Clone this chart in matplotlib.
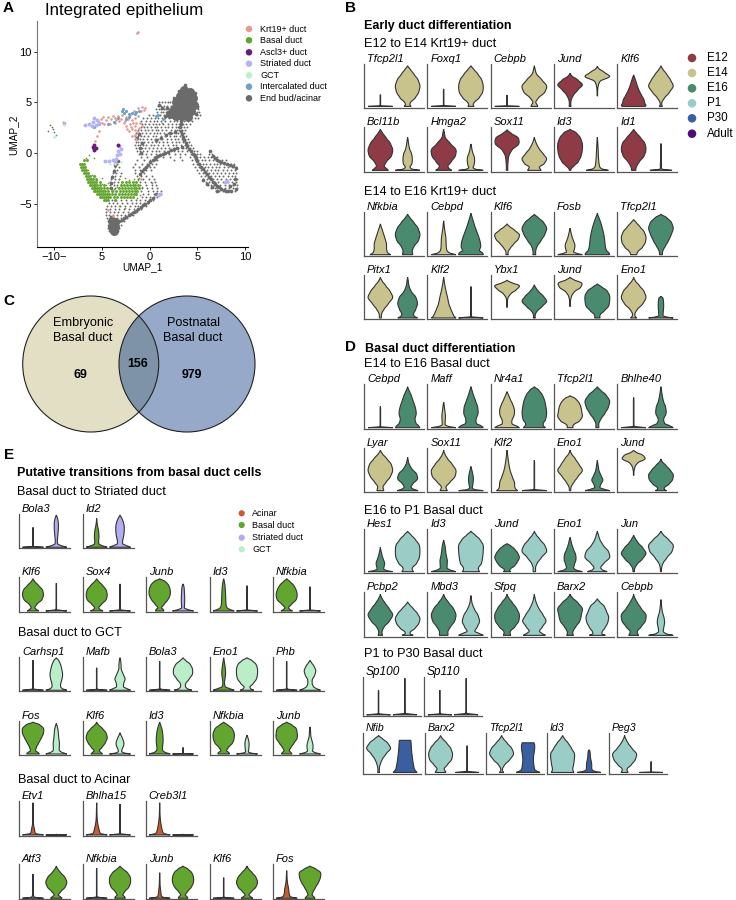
import matplotlib
matplotlib.use("Agg")
import matplotlib.pyplot as plt
from matplotlib.patches import Circle, PathPatch
from matplotlib.path import Path

plt.rcParams["font.family"] = ["Liberation Sans", "DejaVu Sans"]

W, H = 736, 900
DARK = "#333333"

# ---- panel A: UMAP points (x, y in UMAP units)
GRAY_CORE = [(3.6, 6.2), (4.2, 6.0), (3.2, 5.6), (3.9, 5.5), (4.5, 5.4), (2.8, 5.0), (3.4, 4.9), (4.0, 4.9),
             (4.6, 4.8), (2.5, 4.4), (3.1, 4.3), (3.7, 4.3), (4.3, 4.2), (2.1, 3.9), (2.8, 3.7), (3.4, 3.7),
             (4.0, 3.6), (-3.8, -7.6), (-3.6, -7.2), (-4.0, -7.2), (-3.7, -6.8), (-4.0, -6.7)]
GRAY_RIDGE = [(3.7, 6.7), (3.1, 6.1), (4.7, 5.9), (2.5, 5.4), (5.0, 4.6), (1.8, 4.5), (1.3, 4.5), (1.0, 4.8),
              (4.8, 3.9), (1.6, 3.7), (3.3, 3.2), (3.2, 2.6), (3.4, 1.9), (3.6, 1.3), (3.9, 0.7), (4.3, 0.2),
              (4.7, -0.3), (5.0, -0.8), (5.4, -1.3), (5.8, -1.8), (6.2, -2.3), (6.6, -2.8), (7.0, -3.2),
              (7.5, -3.5), (8.0, -3.7), (8.5, -3.7), (9.0, -3.5), (8.8, -3.0), (8.9, -2.5), (8.4, -3.2),
              (6.3, 0.2), (6.6, -0.3), (7.0, -0.7), (7.5, -0.9), (8.1, -1.0), (8.7, -1.2), (9.0, -1.4),
              (-1.0, -2.0), (-0.6, -1.5), (-0.2, -1.1), (0.3, -0.7), (0.7, -0.4), (1.1, -0.2), (1.6, 0.0),
              (2.2, 0.3), (2.9, 0.5), (3.4, 0.6), (-3.7, -6.6), (-3.2, -6.7), (-2.7, -6.4), (-2.2, -6.1),
              (-1.7, -5.8), (-1.2, -5.5), (-0.7, -5.1), (-0.2, -4.8), (0.3, -4.4), (0.7, -4.0), (-4.1, -6.3),
              (-3.6, -1.1), (-3.8, -1.7), (-4.0, -2.3), (-4.1, -2.9), (-4.1, -3.4), (-3.3, -0.8), (0.7, 1.3),
              (1.2, 1.5), (1.7, 1.8), (2.1, 2.0), (-1.0, 0.5), (-0.8, 1.0), (-0.9, 0.0), (-1.3, 1.5),
              (-1.1, 1.9), (2.6, 2.1), (5.6, -2.6), (6.0, -3.0), (6.5, -3.3), (7.1, -3.7), (3.25, 2.9),
              (3.3, 2.2), (3.5, 1.6), (3.75, 1.0), (4.1, 0.45), (4.5, -0.05), (4.85, -0.55), (5.2, -1.05),
              (5.6, -1.55), (6.0, -2.05), (6.4, -2.55), (6.8, -3.0), (7.25, -3.35), (7.75, -3.6), (8.25, -3.7),
              (-0.8, -1.75), (-0.4, -1.3), (0.05, -0.9), (0.5, -0.55), (0.9, -0.3), (1.35, -0.1), (1.9, 0.15),
              (2.55, 0.4), (-3.45, -6.75), (-2.95, -6.55), (-2.45, -6.25), (-1.95, -5.95), (-1.45, -5.65),
              (-0.95, -5.3), (-0.45, -4.95), (0.05, -4.6), (7.25, -0.8), (7.8, -0.95), (8.4, -1.1), (6.8, -0.5)]
# sparse cells, one list of x for each row of y
GRAY_ROW_Y = [5.0, 4.7, 4.4, 4.1, 3.8, 3.5, 3.2, 2.9, 2.6, 2.3, 2.0, 1.7, 1.4, 1.1, 0.8, 0.5, 0.2, -0.1, -0.4, -0.7,
              -1.0, -1.3, -1.6, -1.9, -2.2, -2.5, -2.8, -3.1, -3.4, -3.7, -4.0, -4.3, -4.6, -4.9, -5.2, -5.5, -5.8,
              -6.1, -6.4, -6.7, -7.0, -7.3, -7.6]
GRAY_ROW_X = [[1.0, 1.3, 1.6, 1.9, 2.1],
              [0.9, 1.2, 1.5, 1.8, 2.2, 5.1],
              [0.7, 1.0, 1.2, 1.5, 1.7, 2.0, 5.1],
              [0.8, 1.2, 1.4, 1.7, 2.0, 5.0, 5.2],
              [-0.1, 0.3, 0.8, 1.1, 1.5, 1.8, 5.0, 5.3],
              [-0.7, -0.3, 0.1, 0.5, 0.9, 1.3, 1.6, 2.0, 2.4, 3.0, 3.5, 3.9, 4.3, 4.7, 5.1],
              [-0.9, -0.4, 0.0, 0.4, 0.8, 1.2, 1.6, 2.1, 2.5, 2.9, 3.3, 3.6, 4.0, 4.4],
              [-0.8, -0.5, -0.1, 0.3, 0.7, 1.0, 1.4, 1.9, 2.3, 2.7, 3.1, 3.5, 3.8, 4.2],
              [-0.9, -0.6, -0.3, 0.1, 0.5, 0.8, 1.2, 1.6, 1.9, 2.3, 2.8, 3.0, 3.3, 3.6, 3.9],
              [-1.2, -0.9, -0.5, -0.2, 0.2, 0.6, 0.9, 1.3, 1.7, 2.2, 2.6, 2.9, 3.1, 3.4, 3.7],
              [-1.4, -1.1, -0.8, -0.4, 0.0, 0.4, 0.8, 1.1, 1.5, 1.9, 2.3, 2.7, 3.0, 3.3, 3.6],
              [-1.5, -1.2, -0.9, -0.6, -0.2, 0.3, 0.7, 1.2, 1.6, 2.1, 2.5, 2.8, 3.2, 3.5, 3.8],
              [-1.6, -1.3, -1.0, -0.7, -0.3, 0.1, 0.5, 0.9, 1.3, 1.8, 2.2, 2.6, 3.0, 3.4, 3.7, 4.0],
              [-1.4, -1.2, -0.9, -0.6, -0.2, 0.2, 0.6, 1.0, 1.4, 1.8, 2.3, 2.7, 3.1, 3.5, 3.8, 4.1],
              [-1.5, -1.2, -1.0, -0.7, -0.4, 0.1, 0.4, 0.9, 1.4, 1.9, 2.4, 2.8, 3.3, 3.7, 4.0, 4.3],
              [-1.4, -1.1, -0.8, -0.5, -0.1, 0.3, 0.8, 1.2, 1.6, 2.0, 2.5, 3.0, 3.5, 3.8, 4.2, 4.5],
              [-1.3, -1.0, -0.7, -0.3, 0.2, 0.6, 1.0, 1.5, 2.0, 2.5, 3.0, 3.4, 3.9, 4.3, 4.6, 4.9, 6.3],
              [-1.1, -0.8, -0.4, 0.1, 0.6, 1.1, 1.5, 2.0, 2.6, 3.2, 3.7, 4.3, 4.7, 5.0, 5.3, 6.2, 6.5],
              [-0.9, -0.3, 0.4, 0.8, 1.4, 2.1, 3.2, 4.2, 4.6, 4.9, 5.3, 5.7, 6.1, 6.4, 6.7, 7.1],
              [-1.3, -0.6, 0.0, 0.4, 0.8, 2.5, 3.4, 4.4, 4.8, 5.1, 5.5, 5.8, 6.2, 6.6, 6.9, 7.2, 7.6, 8.0],
              [-3.4, -1.5, -0.8, -0.3, 0.2, 0.6, 4.5, 5.0, 5.3, 5.6, 5.9, 6.3, 6.7, 7.0, 7.4, 7.8, 8.2, 8.5, 8.8],
              [-3.6, -3.2, -1.8, -1.1, -0.5, 0.0, 0.4, 4.7, 5.2, 5.5, 5.8, 6.1, 6.5, 6.9, 7.3, 7.8, 8.2, 8.6, 9.0],
              [-3.8, -3.4, -1.6, -1.0, -0.4, 0.1, 5.0, 5.4, 5.7, 6.0, 6.4, 6.8, 7.2, 7.7, 8.1, 8.5, 8.9],
              [-3.9, -3.5, -3.0, -1.5, -1.0, -0.6, 5.2, 5.6, 5.9, 6.2, 6.6, 7.0, 7.5, 7.9, 8.3, 8.7, 9.0],
              [-4.0, -3.6, -3.1, -1.3, -0.9, -0.4, 0.2, 5.4, 5.8, 6.1, 6.4, 6.8, 7.3, 7.7, 8.2, 8.6, 8.9],
              [-4.1, -3.7, -3.2, -1.2, -0.7, -0.1, 0.4, 5.6, 6.0, 6.3, 6.6, 7.0, 7.5, 8.0, 8.4, 8.8, 9.1],
              [-4.2, -3.8, -3.3, -1.0, -0.5, 0.1, 0.5, 5.9, 6.2, 6.5, 6.8, 7.2, 7.7, 8.2, 8.6, 9.0],
              [-4.2, -3.8, -3.4, -1.0, -0.4, 0.2, 0.6, 6.1, 6.4, 6.7, 7.0, 7.4, 7.9, 8.3, 8.7, 9.1],
              [-4.1, -3.6, -0.8, -0.3, 0.2, 0.8, 6.4, 6.8, 7.1, 7.5, 7.9, 8.3, 8.7, 9.1],
              [-3.9, -0.9, -0.2, 0.3, 0.8, 1.2, 6.9, 7.3, 7.7, 8.1, 8.5, 8.9],
              [-0.7, -0.2, 0.4, 0.8, 1.2],
              [-0.8, -0.4, 0.0, 0.4, 0.8],
              [-4.0, -3.5, -3.0, -2.5, -2.0, -1.4, -1.0, -0.5, -0.1, 0.3],
              [-4.3, -3.9, -3.4, -2.9, -2.4, -1.9, -1.4, -1.0, -0.6, -0.2],
              [-4.5, -4.1, -3.6, -3.1, -2.6, -2.1, -1.6, -1.2, -0.8, -0.4],
              [-4.6, -4.2, -3.7, -3.2, -2.7, -2.2, -1.7, -1.3, -0.9],
              [-4.6, -4.2, -3.8, -3.3, -2.8, -2.3, -1.9, -1.5],
              [-4.6, -4.3, -3.9, -3.4, -3.0, -2.6, -2.2, -1.8],
              [-4.5, -4.2, -3.8, -3.4, -3.0, -2.7, -2.4],
              [-4.4, -4.1, -3.7, -3.3, -3.0, -2.7],
              [-4.4, -4.1, -3.8, -3.3, -3.0],
              [-4.4, -3.2],
              [-4.3, -3.3]]
GRAY_ISLANDS = [(-9.0, 3.0), (-9.1, 3.1), (-10.5, 2.8), (-10.3, 2.6), (-10.7, 2.2), (-10.0, 2.1), (-9.8, 1.8),
                (-10.2, 2.4), (-1.3, 11.8)]
GREEN_ROW_Y = [-0.7, -1.0, -1.3, -1.6, -1.9, -2.2, -2.5, -2.8, -3.1, -3.4, -3.7, -4.0, -4.3, -4.6]
GREEN_ROW_X = [[-6.9, -6.6],
               [-7.3, -7.1, -6.9],
               [-7.2, -7.0, -6.8],
               [-7.1, -6.9, -6.7],
               [-6.9, -6.7, -6.5],
               [-6.7, -6.5, -6.3, -5.9],
               [-6.6, -6.4, -6.2, -6.0, -5.6],
               [-6.5, -6.3, -6.1, -5.9, -5.6, -5.2, -2.9, -2.5, -2.2, -1.8, -1.4],
               [-6.3, -6.1, -5.9, -5.7, -5.5, -5.2, -4.8, -3.0, -2.7, -2.4, -2.1, -1.8, -1.5, -1.2],
               [-6.1, -5.9, -5.7, -5.5, -5.3, -5.1, -4.8, -4.5, -3.2, -2.9, -2.6, -2.3, -2.0, -1.7, -1.4, -1.1],
               [-5.9, -5.7, -5.5, -5.3, -5.1, -4.9, -4.7, -4.4, -4.0, -3.5, -3.1, -2.8, -2.5, -2.2, -1.9, -1.6, -1.3],
               [-5.5, -5.3, -5.1, -4.9, -4.7, -4.5, -4.3, -4.0, -3.6, -3.2, -2.9, -2.6, -2.3, -2.0, -1.7, -1.4],
               [-5.2, -5.0, -4.8, -4.6, -4.4, -4.2, -3.8, -3.4, -3.0, -2.7, -2.4, -2.1, -1.8],
               [-4.8, -4.6, -4.4, -3.6]]
GREEN_SPARSE = [(-6.7, -0.5), (-6.4, -0.2), (-6.5, -1.6), (-6.1, -2.1), (-5.7, -2.2), (-5.5, -2.6), (-5.0, -3.0),
                (-4.6, -3.1), (-4.3, -3.4), (-3.8, -3.5), (-3.4, -3.3), (-4.4, -2.9), (-3.2, -2.5), (-2.6, -2.4),
                (-1.2, -2.6), (-1.1, -2.4), (-1.0, -4.1), (-1.3, -4.4), (-2.6, -5.4), (-3.2, -5.2), (-5.0, -2.4),
                (0.2, -2.9), (1.3, 3.0), (-5.9, -0.5), (-1.7, -2.5), (-2.2, -2.6), (-0.8, -3.3)]
PINK_PTS = [(-5.1, 3.4), (-4.6, 3.3), (-4.1, 3.4), (-3.7, 3.5), (-3.3, 3.7), (-2.9, 3.8), (-2.5, 3.6), (-2.1, 3.8),
            (-1.7, 4.2), (-1.2, 4.5), (-0.8, 4.6), (-0.5, 4.5), (-4.8, 2.9), (-4.2, 2.9), (-3.7, 3.0), (-3.2, 3.2),
            (-2.6, 3.2), (-2.5, 2.7), (-2.1, 2.9), (-1.9, 3.3), (-1.5, 3.5), (-2.2, 2.2), (-1.9, 2.4), (-1.6, 2.7),
            (-1.3, 2.1), (-1.6, 1.8), (-5.3, 2.2), (-5.5, 1.7), (-5.7, 1.2), (-1.3, 11.8), (-1.2, 11.9), (-1.0, 3.0),
            (-3.9, -6.2), (-0.9, -2.5), (-4.4, -5.6), (-4.9, 3.6), (-4.4, 3.6), (-3.9, 3.7), (-3.5, 3.3), (-3.0, 3.4),
            (-2.7, 3.0), (-2.3, 3.4), (-2.0, 2.6), (-1.8, 3.0), (-1.4, 3.0), (-2.4, 2.4), (-1.2, 3.7), (-0.9, 4.2),
            (-0.6, 4.3), (-1.5, 2.3), (-1.1, 2.5), (-0.8, 2.7), (-1.4, 1.4), (-5.4, 3.2), (-5.0, 3.0), (-1.9, 1.7)]
BLUE_PTS = [(-2.8, 4.4), (-2.7, 4.0), (-2.2, 3.9), (-1.9, 4.0), (-1.4, 4.1), (-1.1, 4.2), (-3.3, 3.5), (-3.8, 3.1),
            (-4.4, 2.9), (-2.5, 3.4), (0.6, 3.7), (0.9, 3.8), (1.4, 3.4), (-5.3, 2.9), (-5.8, 2.6), (-2.5, 4.2),
            (-2.95, 4.2), (-1.6, 3.9), (-2.2, 3.6)]
STRIATED_PTS = [(-5.9, 3.5), (-6.0, 3.1), (-5.5, 3.3), (-6.4, 2.9), (-6.8, 2.8), (-5.6, 2.8), (-3.2, 0.7), (-3.3, 0.2),
                (-3.4, -0.2), (-3.1, -0.1), (-3.5, -0.6), (-3.9, -0.7), (-4.3, -0.8), (-4.7, -0.8), (-3.0, 0.4),
                (-3.7, -0.9), (-9.0, 3.0), (1.1, -4.0), (0.9, -4.1), (7.9, -2.8), (8.1, -2.7), (-6.1, 2.7), (-5.3, 3.0)]
ASCL3_PTS = [(-5.8, 0.5), (-5.8, 0.8), (-5.9, 0.3), (-5.6, 0.5), (-3.3, 0.8), (-6.0, 0.6)]
GCT_PTS = [(-10.0, 1.6), (-9.0, 2.8), (-4.2, -1.0), (-3.6, -1.0), (-3.0, -0.9), (-9.9, 1.7)]

A_LABELS = ["Krt19+ duct", "Basal duct", "Ascl3+ duct", "Striated duct", "GCT", "Intercalated duct", "End bud/acinar"]
A_COLORS = ["#E39A92", "#63A62F", "#6A1B7A", "#B9B2F0", "#BDEFC9", "#6BA3CC", "#6B6B6B"]
X_TICKS = [-10, -5, 0, 5, 10]
X_TICK_LABELS = ["\u221210\u2212", "5", "0", "5", "10"]
Y_TICKS = [-5, 0, 5, 10]
Y_TICK_LABELS = ["\u22125", "0", "5", "10"]

# ---- panel C
VENN_COUNTS = ["69", "156", "979"]

# ---- stage colours
E12, E14, E16, P1, P30 = "#8E3B46", "#C8C28C", "#4A8B6F", "#9BCDC7", "#3A5FA0"
ADULT = "#4B0F7A"
ACINAR, BASAL, STRIATED, GCT = "#C65E33", "#63A62F", "#B3ACEE", "#B9EEC8"
B_LEGEND = ["E12", "E14", "E16", "P1", "P30", "Adult"]
B_LEGEND_COLORS = [E12, E14, E16, P1, P30, ADULT]
E_LEGEND = ["Acinar", "Basal duct", "Striated duct", "GCT"]
E_LEGEND_COLORS = [ACINAR, BASAL, STRIATED, GCT]

# ---- violins: (bottom, top, widths in % at the fixed fractions of height below)
FRAC = [0, 0.04, 0.1, 0.2, 0.35, 0.5, 0.65, 0.8, 0.92, 1]
ST = [100, 3, 2, 2, 2, 2, 2, 2, 2, 0]

B1_GENES = ["Tfcp2l1", "Foxq1", "Cebpb", "Jund", "Klf6"]
B1_LEFT = [(.03, .30, ST), (.03, .43, ST), (.03, .29, ST),
           (.03, .79, [8, 6, 6, 10, 30, 65, 100, 62, 14, 0]), (.03, .75, [95, 100, 90, 85, 65, 45, 30, 18, 8, 0])]
B1_RIGHT = [(.03, .96, [28, 18, 25, 60, 90, 100, 85, 50, 20, 0]), (.03, .96, [25, 18, 28, 65, 95, 100, 88, 55, 22, 0]),
            (.03, .96, [28, 22, 12, 32, 85, 100, 62, 18, 6, 0]), (.27, .95, [2, 2, 2, 3, 8, 25, 100, 55, 12, 0]),
            (.03, .96, [12, 6, 8, 28, 70, 100, 78, 45, 15, 0])]
B2_GENES = ["Bcl11b", "Hmga2", "Sox11", "Id3", "Id1"]
B2_LEFT = [(.03, .95, [65, 50, 32, 48, 90, 100, 82, 45, 16, 0]), (.03, .95, [65, 45, 35, 60, 95, 100, 55, 14, 6, 0]),
           (.03, .94, [6, 6, 6, 8, 14, 40, 95, 90, 30, 0]), (.03, .95, [6, 10, 30, 65, 90, 100, 100, 82, 48, 0]),
           (.03, .95, [18, 18, 25, 45, 85, 100, 92, 55, 20, 0])]
B2_RIGHT = [(.03, .77, [100, 35, 20, 35, 38, 32, 16, 8, 4, 0]), (.03, .62, [100, 40, 18, 25, 30, 28, 16, 8, 4, 0]),
            (.03, .77, [55, 48, 42, 80, 100, 72, 40, 18, 6, 0]), (.03, .77, [90, 40, 20, 14, 10, 8, 6, 4, 2, 0]),
            (.03, .63, [90, 12, 4, 5, 3, 2, 2, 1, 1, 0])]
B3_GENES = ["Nfkbia", "Cebpd", "Klf6", "Fosb", "Tfcp2l1"]
B3_LEFT = [(.03, .73, [85, 65, 55, 50, 50, 40, 28, 16, 6, 0]), (.03, .80, [100, 55, 30, 22, 20, 18, 12, 6, 3, 0]),
           (.03, .73, [10, 8, 10, 25, 55, 90, 100, 60, 20, 0]), (.03, .63, [100, 60, 30, 35, 40, 30, 18, 10, 4, 0]),
           (.03, .83, [25, 28, 38, 70, 95, 100, 85, 50, 20, 0])]
B3_RIGHT = [(.03, .95, [42, 40, 38, 52, 88, 100, 85, 50, 18, 0]), (.03, .97, [100, 95, 70, 80, 72, 55, 36, 20, 8, 0]),
            (.03, .95, [12, 10, 12, 22, 55, 85, 100, 75, 30, 0]), (.03, .97, [100, 95, 75, 65, 60, 52, 40, 25, 10, 0]),
            (.03, .95, [12, 12, 16, 35, 62, 85, 100, 85, 45, 0])]
B4_GENES = ["Pitx1", "Klf2", "Ybx1", "Jund", "Eno1"]
B4_LEFT = [(.03, .95, [8, 8, 10, 28, 65, 100, 80, 42, 12, 0]), (.03, .95, [100, 85, 75, 60, 42, 32, 20, 10, 4, 0]),
           (.27, .88, [2, 2, 2, 3, 8, 30, 75, 100, 35, 0]), (.29, .95, [2, 2, 2, 4, 12, 35, 85, 95, 28, 0]),
           (.03, .95, [25, 12, 10, 28, 75, 100, 85, 45, 12, 0])]
B4_RIGHT = [(.03, .95, [80, 55, 48, 65, 80, 68, 30, 10, 5, 0]), (.03, .74, ST),
            (.03, .78, [8, 6, 8, 22, 65, 100, 75, 35, 10, 0]), (.03, .80, [22, 20, 25, 55, 92, 100, 100, 78, 32, 0]),
            (.03, .52, [100, 50, 18, 18, 20, 22, 22, 20, 16, 0])]

D1_GENES = ["Cebpd", "Maff", "Nr4a1", "Tfcp2l1", "Bhlhe40"]
D1_LEFT = [(.03, .50, ST), (.03, .60, [100, 45, 14, 12, 14, 14, 10, 6, 3, 0]),
           (.03, .83, [100, 80, 42, 40, 58, 60, 45, 25, 10, 0]), (.03, .74, [25, 22, 32, 75, 100, 95, 88, 70, 40, 0]),
           (.03, .70, ST)]
D1_RIGHT = [(.03, .94, [100, 90, 70, 60, 70, 62, 45, 28, 10, 0]), (.03, .94, [100, 85, 45, 42, 58, 55, 38, 20, 8, 0]),
            (.03, .94, [90, 75, 72, 92, 100, 95, 85, 65, 35, 0]), (.03, .94, [12, 12, 12, 28, 62, 90, 100, 70, 25, 0]),
            (.03, .94, [100, 75, 32, 22, 42, 38, 20, 10, 4, 0])]
D2_GENES = ["Lyar", "Sox11", "Klf2", "Eno1", "Jund"]
D2_LEFT = [(.03, .95, [28, 25, 22, 45, 82, 100, 88, 50, 15, 0]), (.03, .95, [30, 22, 20, 50, 92, 100, 70, 30, 8, 0]),
           (.03, .95, [85, 70, 62, 60, 42, 25, 15, 8, 3, 0]), (.03, .95, [6, 6, 10, 30, 65, 100, 72, 40, 10, 0]),
           (.38, .95, [2, 2, 2, 4, 12, 35, 92, 75, 20, 0])]
D2_RIGHT = [(.03, .79, [85, 50, 28, 42, 80, 72, 35, 12, 4, 0]), (.03, .58, [100, 35, 12, 14, 18, 20, 16, 10, 4, 0]),
            (.03, .72, ST), (.03, .72, [100, 60, 22, 28, 45, 30, 14, 8, 3, 0]),
            (.03, .75, [45, 28, 30, 65, 95, 100, 75, 40, 10, 0])]
D3_GENES = ["Hes1", "Id3", "Jund", "Eno1", "Jun"]
D3_LEFT = [(.03, .58, [100, 55, 28, 30, 35, 25, 15, 8, 3, 0]), (.03, .75, [100, 62, 30, 28, 30, 22, 16, 12, 5, 0]),
           (.03, .67, [30, 20, 28, 60, 85, 100, 88, 62, 30, 0]), (.03, .81, [100, 55, 30, 35, 48, 45, 28, 14, 6, 0]),
           (.03, .86, [6, 6, 10, 28, 72, 100, 75, 35, 12, 0])]
D3_RIGHT = [(.03, .95, [48, 38, 40, 72, 95, 100, 95, 62, 25, 0]), (.03, .95, [70, 62, 62, 85, 95, 100, 100, 72, 30, 0]),
            (.03, .95, [10, 10, 10, 22, 58, 100, 85, 45, 14, 0]), (.03, .95, [80, 42, 28, 52, 100, 90, 48, 20, 8, 0]),
            (.03, .95, [4, 4, 6, 16, 50, 90, 100, 60, 18, 0])]
D4_GENES = ["Pcbp2", "Mbd3", "Sfpq", "Barx2", "Cebpb"]
D4_LEFT = [(.03, .95, [18, 14, 14, 30, 75, 100, 72, 35, 10, 0]), (.03, .95, [35, 35, 35, 55, 90, 100, 80, 40, 12, 0]),
           (.03, .95, [30, 25, 28, 62, 95, 100, 78, 42, 12, 0]), (.03, .95, [28, 22, 25, 45, 80, 92, 100, 62, 18, 0]),
           (.03, .95, [40, 32, 30, 60, 95, 100, 62, 30, 8, 0])]
D4_RIGHT = [(.03, .78, [45, 22, 22, 58, 90, 100, 80, 45, 15, 0]), (.03, .92, [100, 72, 32, 50, 70, 58, 30, 10, 4, 0]),
            (.03, .95, [90, 65, 42, 65, 95, 70, 38, 15, 5, 0]), (.03, .85, [65, 38, 40, 62, 85, 92, 75, 55, 18, 0]),
            (.03, .83, [100, 45, 20, 22, 30, 25, 12, 6, 2, 0])]
D5_GENES = ["Sp100", "Sp110"]
D5_LEFT = [(.03, .66, ST), (.03, .66, ST)]
D5_RIGHT = [(.03, .96, ST), (.03, .96, ST)]
D6_GENES = ["Nfib", "Barx2", "Tfcp2l1", "Id3", "Peg3"]
D6_LEFT = [(.03, .94, [8, 6, 6, 12, 30, 62, 100, 75, 30, 0]), (.03, .94, [45, 38, 30, 55, 92, 100, 85, 50, 15, 0]),
           (.03, .94, [18, 8, 8, 25, 70, 100, 85, 45, 14, 0]), (.03, .94, [95, 88, 85, 92, 98, 100, 75, 45, 15, 0]),
           (.03, .94, [30, 22, 22, 55, 90, 100, 62, 28, 8, 0])]
D6_RIGHT = [(.03, .82, [100, 90, 78, 72, 65, 60, 55, 52, 50, 48]), (.03, .69, ST),
            (.03, .76, [100, 75, 55, 50, 45, 45, 50, 55, 55, 50]), (.03, .58, [100, 55, 28, 22, 22, 18, 12, 10, 8, 4]),
            (.03, .30, ST)]

E1_GENES = ["Bola3", "Id2"]
E1_LEFT = [(.03, .61, ST), (.03, .87, [100, 65, 25, 18, 22, 20, 14, 6, 2, 0])]
E1_RIGHT = [(.03, .97, [100, 55, 14, 10, 14, 18, 20, 18, 10, 0]), (.03, .97, [100, 70, 28, 25, 35, 40, 40, 30, 14, 0])]
E2_GENES = ["Klf6", "Sox4", "Junb", "Id3", "Nfkbia"]
E2_LEFT = [(.03, .96, [55, 35, 18, 35, 85, 100, 90, 50, 15, 0]), (.03, .96, [60, 32, 20, 45, 90, 100, 90, 55, 18, 0]),
           (.03, .96, [40, 35, 18, 42, 78, 100, 100, 85, 50, 0]), (.03, .96, [100, 62, 32, 22, 20, 18, 16, 12, 6, 0]),
           (.03, .96, [55, 32, 18, 45, 90, 100, 90, 65, 28, 0])]
E2_RIGHT = [(.03, .83, ST), (.03, .81, ST), (.03, .81, [100, 55, 16, 14, 16, 16, 14, 12, 8, 0]),
            (.03, .76, ST), (.03, .73, ST)]
E3_GENES = ["Carhsp1", "Mafb", "Bola3", "Eno1", "Phb"]
E3_LEFT = [(.03, .90, ST), (.03, .68, ST), (.03, .87, ST),
           (.03, .97, [100, 65, 18, 8, 12, 18, 16, 10, 4, 0]), (.03, .87, ST)]
E3_RIGHT = [(.03, .97, [100, 62, 42, 42, 55, 60, 52, 40, 22, 0]), (.03, .97, [100, 72, 35, 35, 48, 30, 12, 10, 6, 0]),
            (.03, .97, [85, 45, 25, 25, 60, 90, 90, 68, 25, 0]), (.03, .97, [65, 38, 28, 58, 90, 100, 100, 85, 45, 0]),
            (.03, .90, [100, 70, 38, 22, 22, 45, 55, 38, 14, 0])]
E4_GENES = ["Fos", "Klf6", "Id3", "Nfkbia", "Junb"]
E4_LEFT = [(.03, .96, [60, 50, 25, 32, 55, 80, 100, 100, 62, 0]), (.03, .96, [55, 42, 25, 50, 82, 100, 90, 55, 15, 0]),
           (.03, .96, [100, 58, 30, 26, 32, 32, 28, 20, 8, 0]), (.03, .96, [55, 50, 28, 45, 85, 100, 100, 80, 35, 0]),
           (.03, .96, [50, 42, 25, 40, 72, 100, 100, 90, 45, 0])]
E4_RIGHT = [(.03, .92, [100, 62, 32, 28, 30, 24, 20, 16, 8, 0]), (.03, .65, [100, 45, 18, 18, 32, 38, 30, 18, 6, 0]),
            (.03, .22, ST), (.03, .58, [100, 45, 14, 16, 18, 20, 18, 12, 5, 0]),
            (.03, .82, [100, 55, 25, 28, 28, 18, 8, 6, 3, 0])]
E5_GENES = ["Etv1", "Bhlha15", "Creb3l1"]
E5_LEFT = [(.03, .95, [100, 28, 18, 12, 4, 3, 2, 2, 1, 0]), (.03, .95, [100, 40, 28, 20, 10, 5, 3, 2, 1, 0]),
           (.03, .95, [100, 42, 28, 20, 12, 6, 3, 2, 1, 0])]
E5_RIGHT = [(.03, .05, ST), (.03, .91, ST), (.03, .05, ST)]
E6_GENES = ["Atf3", "Nfkbia", "Junb", "Klf6", "Fos"]
E6_LEFT = [(.03, .72, [100, 18, 6, 4, 3, 3, 2, 2, 1, 0]), (.03, .89, ST), (.03, .76, [100, 32, 16, 12, 8, 4, 3, 2, 1, 0]),
           (.03, .62, ST), (.03, .82, [100, 45, 28, 22, 18, 10, 5, 3, 1, 0])]
E6_RIGHT = [(.03, .95, [55, 40, 20, 42, 85, 100, 82, 40, 12, 0]), (.03, .95, [50, 45, 28, 45, 85, 100, 98, 70, 25, 0]),
            (.03, .95, [45, 40, 22, 42, 80, 100, 100, 82, 42, 0]), (.03, .95, [55, 38, 18, 42, 85, 100, 85, 48, 14, 0]),
            (.03, .95, [48, 38, 20, 30, 55, 82, 100, 100, 50, 0])]

B_X = [364, 427.3, 490.7, 553.7, 617.3]
D6_X = [362.7, 424.7, 485.7, 546.7, 608.7]
E_X = [19, 82.7, 145.7, 209.7, 272.7]


def fig_axes(fig, left, top, right, bottom):
    return fig.add_axes([left / W, 1 - bottom / H, (right - left) / W, (bottom - top) / H])


def put_text(fig, x, y, s, **kw):
    kw.setdefault("va", "center")
    fig.text(x / W, 1 - y / H, s, **kw)


def smooth_side(points):
    # curve through the outline points, so the widest point keeps its width
    n = len(points)
    verts = [points[0]]
    codes = [Path.LINETO]
    for i in range(n - 1):
        p0 = points[max(i - 1, 0)]
        p1, p2 = points[i], points[i + 1]
        p3 = points[min(i + 2, n - 1)]
        c1 = (p1[0] + (p2[0] - p0[0]) / 8, p1[1] + (p2[1] - p1[1]) / 3)
        c2 = (p2[0] - (p3[0] - p1[0]) / 8, p2[1] - (p2[1] - p1[1]) / 3)
        verts += [c1, c2, p2]
        codes += [Path.CURVE4] * 3
    return verts, codes


def draw_violin(ax, pos, violin, color):
    bottom, top, widths = violin
    ys = [bottom + (top - bottom) * f for f in FRAC]
    half = [0.45 * w / 100 for w in widths]
    right = [(pos + h, y) for h, y in zip(half, ys)]
    left = [(pos - h, y) for h, y in zip(half, ys)][::-1]
    v1, c1 = smooth_side(right)
    v2, c2 = smooth_side(left)
    c1[0] = Path.MOVETO
    verts = v1 + v2 + [v1[0]]
    codes = c1 + c2 + [Path.CLOSEPOLY]
    ax.add_patch(PathPatch(Path(verts, codes), facecolor=color, edgecolor=DARK, lw=0.8))


def violin_row(fig, xs, width, top, bottom, genes, lefts, rights, colors, size=8.0, pad=5):
    for x, gene, lv, rv in zip(xs, genes, lefts, rights):
        ax = fig_axes(fig, x, top, x + width, bottom)
        ax.set_xlim(0.4, 2.6)
        ax.set_ylim(0, 1)
        ax.set_xticks([])
        ax.set_yticks([])
        ax.spines[["top", "right"]].set_visible(False)
        ax.spines[["left", "bottom"]].set_linewidth(0.9)
        ax.spines[["left", "bottom"]].set_color("#555555")
        draw_violin(ax, 1, lv, colors[0])
        draw_violin(ax, 2, rv, colors[1])
        put_text(fig, x + 3, top - pad, gene, style="italic", fontsize=size)


def dot_legend(fig, x, tx, ys, labels, colors, size, ms):
    ax = fig_axes(fig, 0, 0, W, H)
    ax.set_xlim(0, W)
    ax.set_ylim(H, 0)
    ax.axis("off")
    ax.patch.set_alpha(0)
    ax.scatter([x] * len(ys), ys, s=ms, c=colors, linewidths=0)
    for y, lab in zip(ys, labels):
        put_text(fig, tx, y, lab, fontsize=size)


def scatter_xy(ax, pts, color, s):
    xs, ys = zip(*pts)
    ax.scatter(xs, ys, s=s, c=color, linewidths=0)


def scatter_rows(ax, row_y, row_x, color, s):
    for y, xs in zip(row_y, row_x):
        ax.scatter(xs, [y] * len(xs), s=s, c=color, linewidths=0)


def main():
    fig = plt.figure(figsize=(W / 100, H / 100), dpi=100)

    # panel A
    ax = fig_axes(fig, 36.7, 20.7, 248, 246.7)
    ax.set_xlim(-11.86, 10.3)
    ax.set_ylim(-9.18, 13.04)
    scatter_xy(ax, GRAY_CORE, A_COLORS[6], 42)
    scatter_xy(ax, GRAY_RIDGE, A_COLORS[6], 7)
    scatter_rows(ax, GRAY_ROW_Y, GRAY_ROW_X, A_COLORS[6], 2)
    scatter_xy(ax, GRAY_ISLANDS, A_COLORS[6], 1.5)
    scatter_rows(ax, GREEN_ROW_Y, GREEN_ROW_X, A_COLORS[1], 4.5)
    scatter_xy(ax, GREEN_SPARSE, A_COLORS[1], 1.5)
    scatter_xy(ax, PINK_PTS, A_COLORS[0], 3.5)
    scatter_xy(ax, BLUE_PTS, A_COLORS[5], 5)
    scatter_xy(ax, STRIATED_PTS, A_COLORS[3], 8)
    scatter_xy(ax, GCT_PTS, A_COLORS[4], 3)
    scatter_xy(ax, ASCL3_PTS, A_COLORS[2], 8)
    ax.set_xticks(X_TICKS, X_TICK_LABELS, fontsize=8)
    ax.set_yticks(Y_TICKS, Y_TICK_LABELS, fontsize=8)
    ax.tick_params(length=2, width=0.6, pad=1.5)
    ax.spines[["top", "right"]].set_visible(False)
    ax.spines[["left", "bottom"]].set_linewidth(0.8)
    ax.spines["left"].set_color("#777777")
    put_text(fig, 142, 266.7, "UMAP_1", fontsize=7.2, ha="center")
    put_text(fig, 13.3, 135, "UMAP_2", fontsize=7.2, ha="center", rotation=90)
    put_text(fig, 45, 10.7, "Integrated epithelium", fontsize=12.2)
    dot_legend(fig, 249, 260.3, [29, 40.3, 52.3, 63.7, 75.3, 86.7, 98.3], A_LABELS, A_COLORS, 6.5, 22)

    # panel C
    ax = fig_axes(fig, 0, 290, 270, 440)
    ax.set_xlim(0, 270)
    ax.set_ylim(440, 290)
    ax.axis("off")
    ax.add_patch(Circle((90.7, 364), 68, facecolor="#E3DFC5", edgecolor="none"))
    ax.add_patch(Circle((187, 364), 68, facecolor="#97A9C9", edgecolor="none"))
    lens = Circle((90.7, 364), 68, facecolor="#7F93A8", edgecolor="none")
    ax.add_patch(lens)
    lens.set_clip_path(Circle((187, 364), 68, transform=ax.transData))
    ax.add_patch(Circle((90.7, 364), 68, fill=False, edgecolor="#222222", lw=0.8))
    ax.add_patch(Circle((187, 364), 68, fill=False, edgecolor="#222222", lw=0.8))
    put_text(fig, 83, 323, "Embryonic", fontsize=9.2, ha="center")
    put_text(fig, 83, 337.7, "Basal duct", fontsize=9.2, ha="center")
    put_text(fig, 193, 323, "Postnatal", fontsize=9.2, ha="center")
    put_text(fig, 193, 337.7, "Basal duct", fontsize=9.2, ha="center")
    for (x, y), count in zip([(80, 375), (138, 364), (192, 375)], VENN_COUNTS):
        put_text(fig, x, y, count, fontsize=8.9, fontweight="bold", ha="center")

    # panel B
    put_text(fig, 364, 26, "Early duct differentiation", fontsize=9, fontweight="bold")
    put_text(fig, 364, 44, "E12 to E14 Krt19+ duct", fontsize=9.2)
    violin_row(fig, B_X, 60, 64, 107.7, B1_GENES, B1_LEFT, B1_RIGHT, (E12, E14))
    violin_row(fig, B_X, 60, 127, 171.7, B2_GENES, B2_LEFT, B2_RIGHT, (E12, E14))
    put_text(fig, 364, 191.7, "E14 to E16 Krt19+ duct", fontsize=9.2)
    violin_row(fig, B_X, 60, 212, 256, B3_GENES, B3_LEFT, B3_RIGHT, (E14, E16))
    violin_row(fig, B_X, 60, 275, 319.3, B4_GENES, B4_LEFT, B4_RIGHT, (E14, E16))
    dot_legend(fig, 692, 706.7, [58, 73, 88.3, 103.3, 118.3, 133.7], B_LEGEND, B_LEGEND_COLORS, 8.4, 38)

    # panel D
    put_text(fig, 365, 349, "Basal duct differentiation", fontsize=9, fontweight="bold")
    put_text(fig, 364, 363.7, "E14 to E16 Basal duct", fontsize=9.2)
    violin_row(fig, B_X, 60, 384, 429, D1_GENES, D1_LEFT, D1_RIGHT, (E14, E16))
    violin_row(fig, B_X, 60, 448, 492, D2_GENES, D2_LEFT, D2_RIGHT, (E14, E16))
    put_text(fig, 364, 511, "E16 to P1 Basal duct", fontsize=9.2)
    violin_row(fig, B_X, 60, 529, 573, D3_GENES, D3_LEFT, D3_RIGHT, (E16, P1))
    violin_row(fig, B_X, 60, 592, 636.7, D4_GENES, D4_LEFT, D4_RIGHT, (E16, P1))
    put_text(fig, 364, 654.3, "P1 to P30 Basal duct", fontsize=9.2)
    violin_row(fig, [362.7, 424], 58, 676.7, 716, D5_GENES, D5_LEFT, D5_RIGHT, (P1, P30), size=8.6, pad=5)
    violin_row(fig, D6_X, 58.3, 733, 773.7, D6_GENES, D6_LEFT, D6_RIGHT, (P1, P30), size=7.6)

    # panel E
    put_text(fig, 17, 473, "Putative transitions from basal duct cells", fontsize=9, fontweight="bold")
    put_text(fig, 17, 492, "Basal duct to Striated duct", fontsize=9.2)
    violin_row(fig, E_X, 51.3, 514, 548.3, E1_GENES, E1_LEFT, E1_RIGHT, (BASAL, STRIATED))
    dot_legend(fig, 241.7, 252.3, [513.3, 525, 537.7, 549.3], E_LEGEND, E_LEGEND_COLORS, 6.5, 20)
    violin_row(fig, E_X, 51.3, 577.3, 612, E2_GENES, E2_LEFT, E2_RIGHT, (BASAL, STRIATED))
    put_text(fig, 18, 632.7, "Basal duct to GCT", fontsize=9.2)
    violin_row(fig, E_X, 51.3, 656.7, 691.3, E3_GENES, E3_LEFT, E3_RIGHT, (BASAL, GCT))
    violin_row(fig, E_X, 51.3, 720.7, 755, E4_GENES, E4_LEFT, E4_RIGHT, (BASAL, GCT))
    put_text(fig, 18, 780, "Basal duct to Acinar", fontsize=9.2)
    violin_row(fig, E_X, 51.3, 801, 836, E5_GENES, E5_LEFT, E5_RIGHT, (ACINAR, GCT))
    violin_row(fig, E_X, 51.3, 864.3, 899.3, E6_GENES, E6_LEFT, E6_RIGHT, (ACINAR, BASAL))

    # panel letters
    for x, y, letter in [(3, 8.5, "A"), (345, 8.5, "B"), (3, 301, "C"), (345, 347, "D"), (4, 455, "E")]:
        put_text(fig, x, y, letter, fontsize=11, fontweight="bold")

    fig.savefig("out.png", dpi=100)


if __name__ == "__main__":
    main()
